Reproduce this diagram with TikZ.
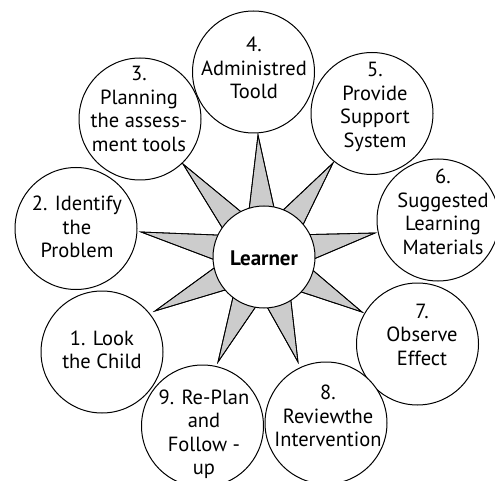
\documentclass[tikz,border=0pt]{standalone}
\usepackage{fontspec}
\setmainfont{PT Sans}
\usetikzlibrary{calc}
\begin{document}
\begin{tikzpicture}[x=1pt,y=-1pt,
  ring/.style={circle,draw,line width=1pt,fill=white,minimum size=122pt,inner sep=0pt},
  hub/.style={circle,draw,line width=1pt,fill=white,minimum size=102pt,inner sep=0pt},
  lbl/.style={align=center,font=\fontsize{20.5}{23.5}\selectfont,inner sep=0pt},
  spike/.style={fill=gray!40,draw,line width=0.8pt,line join=miter}]
\useasboundingbox (0,0) rectangle (495,481);
\clip (0,0) rectangle (495,481);
\coordinate (ctr) at (264,257);
\foreach \tx/\ty [count=\i] in {258/135,333/163,375/233,362/312,298/362,218/362,155/311,141/232,183/164}{
  \coordinate (t\i) at (\tx,\ty);
  \fill[spike] let \p1=($(t\i)-(ctr)$), \n1={atan2(\y1,\x1)} in
    (t\i) -- ($(ctr)+(\n1+15:49pt)$) -- ($(ctr)+(\n1-15:49pt)$) -- cycle;
  \draw[spike,fill=none] let \p1=($(t\i)-(ctr)$), \n1={atan2(\y1,\x1)} in
    ($(ctr)+(\n1+15:49pt)$) -- (t\i) -- ($(ctr)+(\n1-15:49pt)$);
}
\node[hub] (L) at (ctr) {};
\node[font=\fontsize{21}{24}\selectfont\bfseries,inner sep=0pt] (Lt) at (264,258) {Learner};
\node[ring] (c1) at (102,352) {};
\node[ring] (c2) at (76,228.5) {};
\node[ring] (c3) at (140,119) {};
\node[ring] (c4) at (253.5,72) {};
\node[ring] (c5) at (372,113.5) {};
\node[ring] (c6) at (438,220) {};
\node[ring] (c7) at (417.5,344) {};
\node[ring] (c8) at (326,423) {};
\node[ring] (c9) at (202.5,426) {};
\node[lbl] (l1) at (102,350) {1. Look\\the Child};
\node[lbl] (l2) at (77,227) {2. Identify\\the\\Problem};
\node[lbl] (l3) at (139,109) {3.\\Planning\\the assess-\\ment tools};
\node[lbl] (l4) at (254,68) {4.\\Administred\\Toold};
\node[lbl] (l5) at (375,107) {5.\\Provide\\Support\\System};
\node[lbl] (l6) at (443,212) {6.\\Suggested\\Learning\\Materials};
\node[lbl] (l7) at (422,334.6) {7.\\Observe\\Effect};
\node[lbl] (l8) at (328,416) {8.\\Reviewthe\\Intervention};
\node[lbl] (l9) at (204,434) {9. Re-Plan\\and\\Follow -\\up};
\end{tikzpicture}
\end{document}
